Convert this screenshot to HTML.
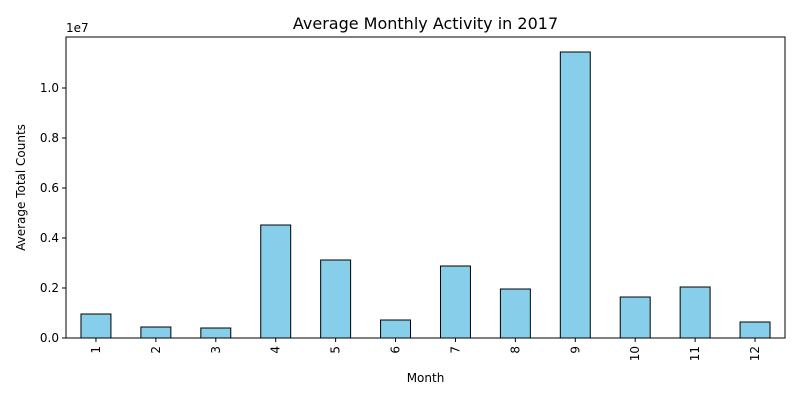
<!DOCTYPE html>
<html><head><meta charset="utf-8"><style>
body{margin:0;background:#fff;}
svg text{font-family:"DejaVu Sans","Liberation Sans",sans-serif;fill:#000;}
</style></head><body>
<svg id="chart" width="800" height="400" viewBox="0 0 800 400">
<rect width="800" height="400" fill="#fff"/>
<text x="425.5" y="29" font-size="16" text-anchor="middle">Average Monthly Activity in 2017</text>
<g id="bars"></g>
<g id="yticks"></g>
<g id="xticks"></g>
<rect x="66" y="37" width="719" height="301" fill="none" stroke="#000" stroke-width="1"/>
<text x="66" y="32" font-size="12">1e7</text>
<text x="425.5" y="382" font-size="12" text-anchor="middle">Month</text>
<text transform="translate(25,187.5) rotate(-90)" font-size="12" text-anchor="middle">Average Total Counts</text>
</svg>
<script>
const categories = ["1","2","3","4","5","6","7","8","9","10","11","12"];
const values = [960000,440000,400000,4520000,3120000,720000,2880000,1960000,11440000,1640000,2040000,640000];
const yTicks = [0,2000000,4000000,6000000,8000000,10000000];
const yTickLabels = ["0.0","0.2","0.4","0.6","0.8","1.0"];
const NS="http://www.w3.org/2000/svg";
const L=66,R=785,B=338,pxPer=250/1e7;
const step=(R-L)/categories.length;
const x=i=>L+step*(i+0.5);
const y=v=>B-v*pxPer;
const bars=document.getElementById('bars'),yt=document.getElementById('yticks'),xt=document.getElementById('xticks');
categories.forEach((c,i)=>{
  const r=document.createElementNS(NS,'rect');
  r.setAttribute('x',x(i)-step/4);r.setAttribute('width',step/2);
  r.setAttribute('y',y(values[i]));r.setAttribute('height',B-y(values[i]));
  r.setAttribute('fill','#87ceeb');r.setAttribute('stroke','#000');r.setAttribute('stroke-width','1');
  
  
  bars.appendChild(r);
  const t=document.createElementNS(NS,'line');
  t.setAttribute('x1',x(i));t.setAttribute('x2',x(i));t.setAttribute('y1',B);t.setAttribute('y2',B+4);t.setAttribute('stroke','#000');
  
  
  xt.appendChild(t);
  const tx=document.createElementNS(NS,'text');
  tx.setAttribute('transform','translate('+(x(i)+4)+','+(B+8)+') rotate(-90)');
  tx.setAttribute('font-size','12');tx.setAttribute('text-anchor','end');tx.textContent=c;
  
  
  xt.appendChild(tx);
});
yTicks.forEach((v,i)=>{
  const t=document.createElementNS(NS,'line');
  t.setAttribute('x1',L-4);t.setAttribute('x2',L);t.setAttribute('y1',y(v));t.setAttribute('y2',y(v));t.setAttribute('stroke','#000');
  
  
  yt.appendChild(t);
  const tx=document.createElementNS(NS,'text');
  tx.setAttribute('x',L-7);tx.setAttribute('y',y(v)+4);tx.setAttribute('font-size','12');tx.setAttribute('text-anchor','end');
  tx.textContent=yTickLabels[i];
  
  
  yt.appendChild(tx);
});
</script>
</body></html>
